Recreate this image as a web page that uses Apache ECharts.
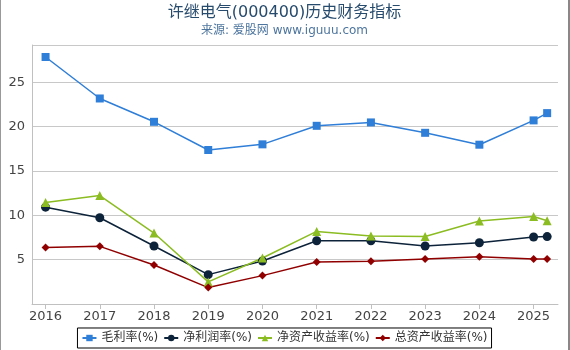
<!DOCTYPE html>
<html>
<head>
<meta charset="utf-8">
<script src="https://cdn.jsdelivr.net/npm/echarts@6/dist/echarts.min.js"></script>
<style>
  html, body { margin: 0; padding: 0; background: #fff; }
  #chart-container {
    width: 570px; height: 350px; box-sizing: border-box;
    border-left: 1px solid #999; border-right: 2px solid #888;
  }
</style>
</head>
<body>
<div id="chart-container"></div>
<script>
// x positions of points (last point is a partial-year figure)
let xValues = [2016, 2017, 2018, 2019, 2020, 2021, 2022, 2023, 2024, 2025, 2025.25];
let yearTicks = [2016, 2017, 2018, 2019, 2020, 2021, 2022, 2023, 2024, 2025];

let grossMargin = [27.85, 23.17, 20.54, 17.36, 18.0, 20.09, 20.47, 19.3, 17.96, 20.7, 21.52];
let netMargin = [10.92, 9.72, 6.54, 3.31, 4.85, 7.13, 7.13, 6.54, 6.91, 7.55, 7.6];
let roe = [11.44, 12.23, 8.0, 2.49, 5.19, 8.18, 7.66, 7.62, 9.35, 9.87, 9.38];
let roa = [6.38, 6.5, 4.4, 1.85, 3.2, 4.74, 4.81, 5.08, 5.34, 5.08, 5.06];

let seriesNames = ['毛利率(%)', '净利润率(%)', '净资产收益率(%)', '总资产收益率(%)'];
let colors = ['#2f7ed8', '#0d233a', '#8bbc21', '#910000'];
let symbols = ['rect', 'circle', 'triangle', 'diamond'];
let symbolSizes = [8, 9, 9, 8];

let dom = document.getElementById('chart-container');
let myChart = echarts.init(dom, null, { renderer: 'canvas' });

function pairs(values) {
    return values.map(function(v, i) { return [xValues[i], v]; });
}

let allData = [grossMargin, netMargin, roe, roa];
let fontFamily = '"DejaVu Sans", "Noto Sans CJK SC", sans-serif';

let option = {
    color: colors,
    textStyle: { fontFamily: fontFamily },
    title: {
        text: '许继电气(000400)历史财务指标',
        subtext: '来源: 爱股网 www.iguuu.com',
        left: 'center',
        top: 0,
        itemGap: 4,
        textStyle: { fontSize: 16, fontWeight: 'normal', color: '#274b6d', fontFamily: fontFamily },
        subtextStyle: { fontSize: 12, color: '#4d759e', fontFamily: fontFamily }
    },
    legend: {
        data: seriesNames,
        left: 'center',
        bottom: 2,
        borderColor: '#000',
        borderWidth: 1,
        padding: [4, 4],
        itemGap: 5,
        itemWidth: 14,
        itemHeight: 8,
        textStyle: { fontSize: 12, color: '#333', fontFamily: fontFamily }
    },
    grid: { left: 31, right: 10, top: 45, bottom: 46, containLabel: false },
    xAxis: {
        type: 'value',
        min: 2015.75,
        max: 2025.45,
        splitLine: { show: false },
        axisLine: { lineStyle: { color: '#c0c0c0' } },
        axisTick: { show: true, customValues: yearTicks, length: 5, lineStyle: { color: '#c0c0c0' } },
        axisLabel: {
            customValues: yearTicks,
            color: '#444',
            fontSize: 13,
            margin: 6,
            formatter: function(v) { return String(Math.round(v)); }
        }
    },
    yAxis: {
        type: 'value',
        min: 0,
        max: 29.2,
        interval: 5,
        axisLine: { show: true, lineStyle: { color: '#c0c0c0' } },
        axisTick: { show: false },
        splitLine: { lineStyle: { color: '#c8c8c8' } },
        axisLabel: {
            color: '#444',
            fontSize: 13,
            margin: 7,
            showMinLabel: false,
            showMaxLabel: false
        }
    },
    series: seriesNames.map(function(name, i) {
        return {
            name: name,
            type: 'line',
            data: pairs(allData[i]),
            symbol: symbols[i],
            symbolSize: symbolSizes[i],
            showAllSymbol: true,
            lineStyle: { width: 1.5, color: colors[i] },
            itemStyle: { color: colors[i] },
            animation: false
        };
    })
};

myChart.setOption(option);
window.addEventListener('resize', myChart.resize);
</script>
</body>
</html>
